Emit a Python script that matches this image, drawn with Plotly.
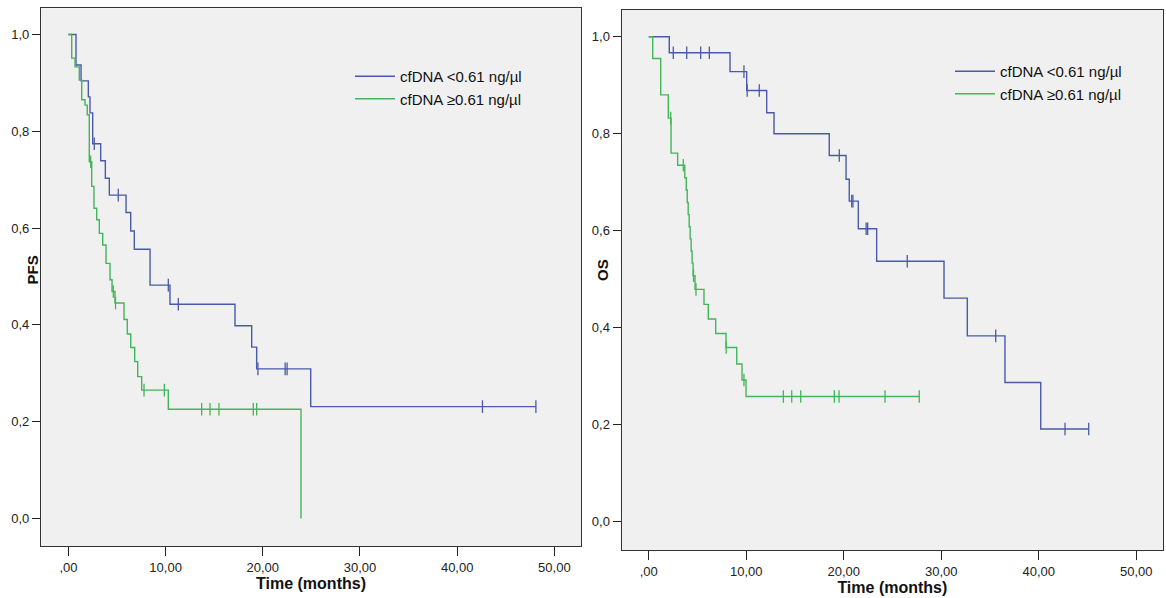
import numpy as np
import plotly.graph_objects as go

# ---------------- data ----------------
# PFS, cfDNA < 0.61 ng/ul : event times and survival after each step
pfs_low_t = [0, 0.78, 1.30, 2.05, 2.22, 2.50, 3.32, 3.80, 4.21, 5.93, 6.41, 6.78,
             8.40, 10.45, 17.14, 18.86, 19.37, 24.93, 48.1]
pfs_low_s = [1.0, 0.937, 0.904, 0.871, 0.838, 0.774, 0.739, 0.703, 0.668, 0.632,
             0.594, 0.556, 0.482, 0.4425, 0.398, 0.354, 0.309, 0.231, 0.231]
pfs_low_cens = [2.66, 5.13, 10.28, 11.31, 19.5, 22.3, 22.5, 42.6, 48.1]

# PFS, cfDNA >= 0.61 ng/ul
pfs_high_t = [0, 0.34, 0.68, 1.12, 1.37, 1.71, 1.94, 2.15, 2.40, 2.63, 2.91, 3.18,
              3.53, 3.87, 4.28, 4.49, 4.79, 5.72, 6.06, 6.41, 6.82, 7.13, 7.54,
              10.28, 23.93]
pfs_high_s = [1.0, 0.951, 0.933, 0.906, 0.865, 0.854, 0.834, 0.737, 0.686, 0.641,
              0.617, 0.589, 0.565, 0.527, 0.493, 0.469, 0.445, 0.411, 0.381, 0.353,
              0.324, 0.293, 0.265, 0.2256, 0.0]
pfs_high_cens = [2.29, 4.62, 4.85, 7.78, 9.87, 13.71, 14.57, 15.49, 19.02, 19.37]

# OS, cfDNA < 0.61 ng/ul
os_low_t = [0, 2.11, 8.34, 10.05, 12.10, 12.85, 18.52, 20.24, 20.57, 21.50, 23.38,
            30.29, 32.68, 36.54, 40.21, 45.13]
os_low_s = [1.0, 0.967, 0.928, 0.889, 0.843, 0.80, 0.755, 0.706, 0.661, 0.604,
            0.537, 0.461, 0.383, 0.287, 0.191, 0.191]
os_low_cens = [2.52, 3.90, 5.33, 6.22, 9.77, 10.1, 11.34, 19.55, 20.82, 20.95,
               22.3, 22.46, 26.52, 35.59, 42.70, 45.13]

# OS, cfDNA >= 0.61 ng/ul
os_high_t = [0, 0.41, 1.23, 2.01, 2.29, 2.97, 3.70, 3.85, 3.95, 4.05, 4.15, 4.25,
             4.35, 4.45, 4.55, 4.75, 5.67, 6.11, 6.87, 7.93, 9.03, 9.57, 9.98, 27.75]
os_high_s = [1.0, 0.955, 0.88, 0.832, 0.760, 0.735, 0.709, 0.684, 0.658, 0.633,
             0.608, 0.583, 0.558, 0.533, 0.507, 0.479, 0.448, 0.418, 0.388, 0.359,
             0.325, 0.292, 0.258, 0.258]
os_high_cens = [2.26, 3.55, 4.6, 4.85, 7.95, 9.77, 13.81, 14.67, 15.59, 19.04,
                19.52, 24.24, 27.75]

series_names = ["cfDNA <0.61 ng/µl", "cfDNA ≥0.61 ng/µl"]
x_tickvals = [0, 10, 20, 30, 40, 50]
x_ticktext = [",00", "10,00", "20,00", "30,00", "40,00", "50,00"]
y_tickvals = [0, 0.2, 0.4, 0.6, 0.8, 1.0]
y_ticktext = ["0,0", "0,2", "0,4", "0,6", "0,8", "1,0"]

# ---------------- style ----------------
BLUE = "#4A5AA8"
GREEN = "#43B55A"
FONT = "Liberation Sans, Arial, sans-serif"
W, H = 1166, 598


def step_value(t, times, surv):
    times = np.asarray(times)
    idx = np.searchsorted(times, t, side="right") - 1
    return np.asarray(surv)[idx]


fig = go.Figure()

panels = [
    ("x", "y", "legend", [(pfs_low_t, pfs_low_s, pfs_low_cens, BLUE),
                          (pfs_high_t, pfs_high_s, pfs_high_cens, GREEN)]),
    ("x2", "y2", "legend2", [(os_low_t, os_low_s, os_low_cens, BLUE),
                             (os_high_t, os_high_s, os_high_cens, GREEN)]),
]

for xa, ya, leg, curves in panels:
    for (t, s, c, col), name in zip(curves, series_names):
        fig.add_trace(go.Scatter(
            x=t, y=s, mode="lines", line=dict(color=col, width=1.4, shape="hv"),
            name=name, xaxis=xa, yaxis=ya, legend=leg, showlegend=True,
            hoverinfo="skip"))
        fig.add_trace(go.Scatter(
            x=c, y=step_value(c, t, s), mode="markers",
            marker=dict(symbol="line-ns-open", size=9, color=col,
                        line=dict(color=col, width=1.3)),
            xaxis=xa, yaxis=ya, showlegend=False, hoverinfo="skip"))

axis_common = dict(showgrid=False, zeroline=False, showline=True, mirror=True,
                   linecolor="#333333", linewidth=1.3, ticks="outside",
                   tickcolor="#222222", tickwidth=1.3,
                   tickfont=dict(family=FONT, size=13, color="#222222"))

legend_common = dict(xanchor="left", yanchor="top", bgcolor="rgba(0,0,0,0)",
                     font=dict(family=FONT, size=15, color="#111111"),
                     tracegroupgap=0, itemwidth=40)

fig.update_layout(
    width=W, height=H,
    margin=dict(l=0, r=0, t=0, b=0),
    paper_bgcolor="white",
    plot_bgcolor="#F0F0F0",
    showlegend=True,
    xaxis=dict(domain=[41 / W, 581 / W], range=[-2.82, 52.74],
               tickvals=x_tickvals, ticktext=x_ticktext, ticklen=9,
               title=dict(text="<b>Time (months)</b>", standoff=1,
                          font=dict(family=FONT, size=16, color="#111111")),
               anchor="y", **axis_common),
    yaxis=dict(domain=[1 - 546 / H, 1 - 8.3 / H], range=[-0.057, 1.054],
               tickvals=y_tickvals, ticktext=y_ticktext, ticklen=8,
               anchor="x", **axis_common),
    xaxis2=dict(domain=[621.7 / W, 1163 / W], range=[-2.77, 52.75],
                tickvals=x_tickvals, ticktext=x_ticktext, ticklen=9,
                title=dict(text="<b>Time (months)</b>", standoff=3,
                           font=dict(family=FONT, size=16, color="#111111")),
                anchor="y2", **axis_common),
    yaxis2=dict(domain=[1 - 550 / H, 1 - 10 / H], range=[-0.0584, 1.055],
                tickvals=y_tickvals, ticktext=y_ticktext, ticklen=8,
                anchor="x2", **axis_common),
    legend=dict(x=350 / W, y=1 - 60 / H, **legend_common),
    legend2=dict(x=950 / W, y=1 - 55 / H, **legend_common),
    annotations=[
        dict(text="<b>PFS</b>", x=22 / W, y=1 - 270 / H, xref="paper", yref="paper",
             textangle=-90, showarrow=False,
             font=dict(family=FONT, size=15, color="#111111")),
        dict(text="<b>OS</b>", x=603 / W, y=1 - 270 / H, xref="paper", yref="paper",
             textangle=-90, showarrow=False,
             font=dict(family=FONT, size=15, color="#111111")),
    ],
)

fig.write_html("out.html")
